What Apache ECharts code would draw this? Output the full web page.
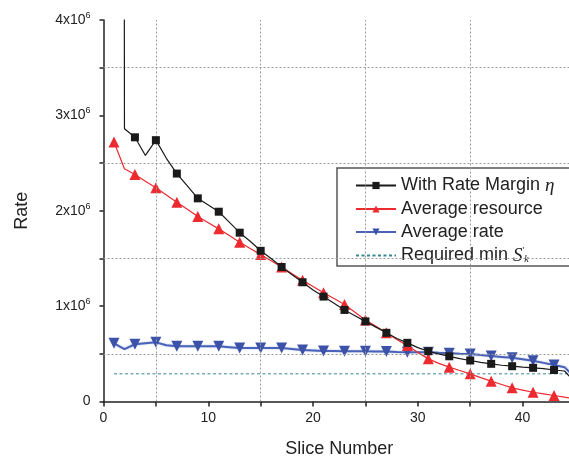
<!DOCTYPE html>
<html>
<head>
<meta charset="utf-8">
<script src="https://cdn.jsdelivr.net/npm/echarts@6/dist/echarts.min.js"></script>
<style>html,body{margin:0;padding:0;background:#fff}#c{width:569px;height:458px}</style>
</head>
<body>
<div id="c"></div>
<script>
// Slice numbers
var slices = [1,2,3,4,5,6,7,8,9,10,11,12,13,14,15,16,17,18,19,20,21,22,23,24,25,26,27,28,29,30,31,32,33,34,35,36,37,38,39,40,41,42,43,44,45];
// With Rate Margin eta (first value is far above the axis top)
var withMargin = [100e6,2.86e6,2.77e6,2.58e6,2.74e6,2.55e6,2.39e6,2.26e6,2.13e6,2.06e6,1.99e6,1.88e6,1.77e6,1.68e6,1.58e6,1.50e6,1.41e6,1.33e6,1.25e6,1.17e6,1.10e6,1.03e6,0.96e6,0.90e6,0.84e6,0.78e6,0.72e6,0.66e6,0.615e6,0.565e6,0.527e6,0.50e6,0.474e6,0.45e6,0.43e6,0.41e6,0.395e6,0.38e6,0.37e6,0.36e6,0.353e6,0.345e6,0.33e6,0.32e6,0.2e6];
// Average resource
var avgResource = [2.72e6,2.44e6,2.38e6,2.31e6,2.24e6,2.165e6,2.09e6,2.015e6,1.94e6,1.875e6,1.81e6,1.74e6,1.67e6,1.605e6,1.54e6,1.475e6,1.41e6,1.34e6,1.27e6,1.205e6,1.14e6,1.08e6,1.016e6,0.935e6,0.855e6,0.79e6,0.72e6,0.65e6,0.586e6,0.515e6,0.447e6,0.40e6,0.36e6,0.325e6,0.29e6,0.25e6,0.213e6,0.178e6,0.143e6,0.12e6,0.097e6,0.08e6,0.063e6,0.045e6,0.03e6];
// Average rate
var avgRate = [0.61e6,0.55e6,0.60e6,0.61e6,0.62e6,0.59e6,0.58e6,0.58e6,0.58e6,0.58e6,0.58e6,0.57e6,0.56e6,0.56e6,0.56e6,0.56e6,0.56e6,0.55e6,0.54e6,0.535e6,0.53e6,0.53e6,0.527e6,0.527e6,0.527e6,0.525e6,0.524e6,0.52e6,0.517e6,0.517e6,0.517e6,0.51e6,0.506e6,0.50e6,0.497e6,0.487e6,0.476e6,0.467e6,0.458e6,0.443e6,0.427e6,0.405e6,0.382e6,0.36e6,0.25e6];
// Required min S'_k (constant level)
var requiredMinX = [1,45];
var requiredMinY = [0.29e6,0.29e6];
// Dotted grid positions
var xGridLines = [5,15,25,35];
var yGridLines = [0.5e6,1.5e6,2.5e6,3.5e6];
var seriesNames = ['With Rate Margin \u03b7','Average resource','Average rate','Required min S\'k'];

function pairs(xs, ys){ return xs.map(function(x,i){ return [x, ys[i]]; }); }

var FONT = 'Liberation Sans, Arial, sans-serif';
var chart = echarts.init(document.getElementById('c'), null, {renderer:'canvas'});
var oddSize = function(s){ return function(v, p){ return p.dataIndex % 2 === 0 ? s : 0; }; };
var downTri = 'path://M0,0 L10,0 L5,9 Z';

var gridMarks = xGridLines.map(function(v){ return {xAxis:v}; }).concat(yGridLines.map(function(v){ return {yAxis:v}; }));

chart.setOption({
  animation:false,
  backgroundColor:'#fff',
  textStyle:{fontFamily:FONT},
  grid:{left:103.5, top:20, right:-6, bottom:56.5, containLabel:false, outerBoundsMode:'none'},
  xAxis:{
    type:'value', min:0, max:45, interval:5,
    name:'Slice Number', nameLocation:'middle', nameGap:39,
    nameTextStyle:{fontSize:18, color:'#222', fontFamily:FONT},
    axisLine:{lineStyle:{color:'#222', width:1.5}},
    axisTick:{inside:false, length:5, lineStyle:{color:'#222', width:1.5}},
    axisLabel:{fontSize:14, color:'#222', margin:10, fontFamily:FONT,
      formatter:function(v){ return v % 10 === 0 ? String(v) : ''; }},
    splitLine:{show:false}
  },
  yAxis:{
    type:'value', min:0, max:4e6, interval:0.5e6,
    name:'Rate', nameLocation:'middle', nameGap:72,
    nameTextStyle:{fontSize:18, color:'#222', fontFamily:FONT},
    axisLine:{show:true, lineStyle:{color:'#222', width:1.5}},
    axisTick:{show:true, inside:false, length:4, lineStyle:{color:'#222', width:1.5}},
    axisLabel:{color:'#222', margin:13, fontFamily:FONT,
      formatter:function(v){
        if (v === 0) return '{b|0}';
        if (v % 1e6 === 0) return '{b|' + (v/1e6) + 'x10}{s|6}';
        return '';
      },
      rich:{b:{fontSize:14, color:'#222', fontFamily:FONT}, s:{fontSize:9, color:'#222', fontFamily:FONT, padding:[0,0,9,0]}}
    },
    splitLine:{show:false}
  },
  legend:{
    orient:'vertical', left:337, top:168,
    data:[
      {name:seriesNames[0]},
      {name:seriesNames[1]},
      {name:seriesNames[2]},
      {name:seriesNames[3], itemStyle:{opacity:0}}
    ],
    itemWidth:40, itemHeight:9, itemGap:5,
    padding:[8,40,1,18],
    borderColor:'#555', borderWidth:1.5, backgroundColor:'#fff',
    textStyle:{fontSize:18, color:'#222', fontFamily:FONT,
      rich:{
        n:{fontSize:18, color:'#222', fontFamily:FONT},
        i:{fontSize:19, color:'#222', fontFamily:'Liberation Serif, serif', fontStyle:'italic'},
        sup:{fontSize:9, color:'#222', fontFamily:'Liberation Serif, serif', padding:[0,0,10,0]},
        sub:{fontSize:10, color:'#222', fontFamily:'Liberation Serif, serif', fontStyle:'italic', padding:[8,0,0,0]}
      }},
    formatter:function(name){
      if (name === seriesNames[0]) return '{n|With Rate Margin }{i|\u03b7}';
      if (name === seriesNames[3]) return '{n|Required min }{i|S}{sup|\'}{sub|k}';
      return '{n|' + name + '}';
    }
  },
  series:[
    {
      name:'grid', type:'line', data:[], z:1, silent:true,
      markLine:{silent:true, symbol:'none', label:{show:false},
        lineStyle:{color:'#9a9a9a', type:[2,2], width:1}, data:gridMarks}
    },
    {
      name:seriesNames[3], type:'line', z:2, data:pairs(requiredMinX, requiredMinY),
      showSymbol:false, symbol:'none', color:'#358890',
      lineStyle:{color:'#358890', width:1, type:[3,2.5]}
    },
    {
      name:seriesNames[2], type:'line', z:3, data:pairs(slices, avgRate),
      symbol:downTri, symbolSize:oddSize(11), color:'#3b52a8',
      itemStyle:{color:'#3b52a8'},
      lineStyle:{color:'#4a63b8', width:2, shadowColor:'rgba(120,145,215,0.6)', shadowBlur:2}
    },
    {
      name:seriesNames[1], type:'line', z:4, data:pairs(slices, avgResource),
      symbol:'triangle', symbolSize:oddSize(11), color:'#ec2a30',
      itemStyle:{color:'#ec2a30'},
      lineStyle:{color:'#ec2a30', width:1.2}
    },
    {
      name:seriesNames[0], type:'line', z:5, data:pairs(slices, withMargin),
      symbol:'rect', symbolSize:oddSize(8), color:'#1a1a1a',
      itemStyle:{color:'#1a1a1a'},
      lineStyle:{color:'#1a1a1a', width:1.2}
    }
  ]
});
</script>
</body>
</html>
